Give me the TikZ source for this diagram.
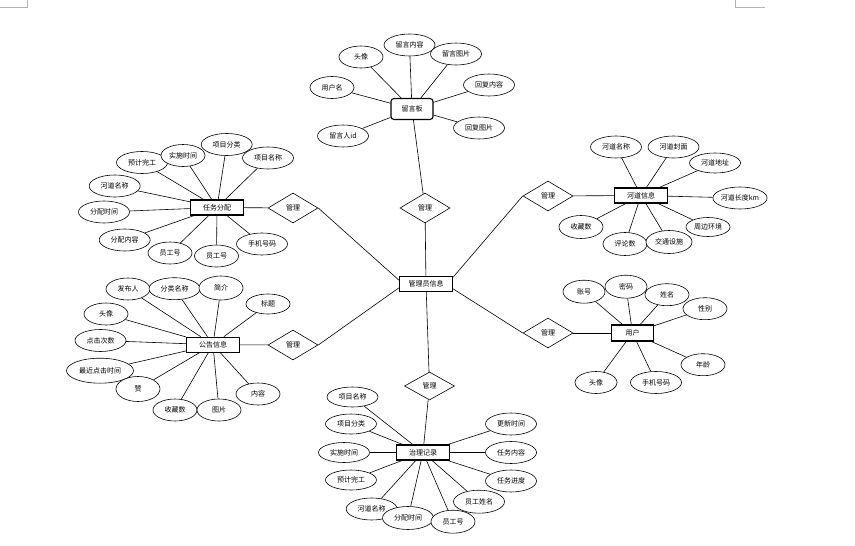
\documentclass[tikz,border=0pt]{standalone}
\usepackage{fontspec}
\setmainfont{Noto Sans CJK SC}
\usetikzlibrary{shapes.geometric,positioning,backgrounds}

\begin{document}
\begin{tikzpicture}[x=1pt,y=-1pt,font=\fontsize{7}{8}\selectfont]
       \tikzstyle{attr}=[ellipse,draw,fill=white,line width=0.6pt,inner sep=0pt,minimum width=44pt,minimum height=22pt]
       \tikzstyle{wattr}=[attr,minimum width=51pt]
       \tikzstyle{entity}=[rectangle,draw,fill=white,line width=1.1pt,minimum width=53pt,minimum height=15pt,inner sep=1pt]
       \tikzstyle{rel}=[diamond,draw,fill=white,line width=0.6pt,inner sep=0pt,minimum width=50pt,minimum height=30pt]

       \useasboundingbox (0,0) rectangle (855,546);
       \draw[gray!60,line width=0.6pt] (0,7) -- (27,7) -- (27,0);
       \draw[gray!60,line width=0.6pt] (735,0) -- (735,7) -- (765,7);

       % centre
       \node[entity] (admin) at (426,284) {管理员信息};

       % message board
       \node[rel]    (relB)  at (425,208) {管理};
       \node[entity,rounded corners=3pt,minimum width=42pt,minimum height=21pt] (board) at (412,109) {留言板};
       \node[attr]  (b1) at (361,57)    {头像};
       \node[wattr] (b2) at (409.5,45)  {留言内容};
       \node[wattr] (b3) at (456,54)    {留言图片};
       \node[attr]  (b4) at (332,87.5)  {用户名};
       \node[wattr] (b5) at (489,85)    {回复内容};
       \node[wattr] (b6) at (479,128)   {回复图片};
       \node[wattr] (b7) at (343,136)   {留言人id};

       % task assignment
       \node[rel]    (relT) at (293,208)   {管理};
       \node[entity] (task) at (217,207.5) {任务分配};
       \node[wattr] (t1)  at (142,162.5)   {预计完工};
       \node[attr]  (t2)  at (183,155.5)   {实施时间};
       \node[wattr] (t3)  at (226.7,144.5) {项目分类};
       \node[wattr] (t4)  at (268,158)     {项目名称};
       \node[wattr] (t5)  at (114.7,186)   {河道名称};
       \node[wattr] (t6)  at (104,212)     {分配时间};
       \node[wattr] (t7)  at (124.7,240)   {分配内容};
       \node[attr]  (t8)  at (170,253)     {员工号};
       \node[attr]  (t9)  at (216.5,256)   {员工号};
       \node[wattr] (t10) at (262,244)     {手机号码};

       % river
       \node[rel]    (relR)  at (548,196)   {管理};
       \node[entity] (river) at (641,195.5) {河道信息};
       \node[wattr] (r1) at (616,147)   {河道名称};
       \node[wattr] (r2) at (673.5,147) {河道封面};
       \node[wattr,minimum height=20pt] (r3) at (715,163) {河道地址};
       \node[wattr,minimum width=53pt]  (r4) at (740,198) {河道长度km};
       \node[attr,minimum height=19pt]  (r5) at (708,227) {周边环境};
       \node[attr,minimum height=23pt]  (r8) at (581,227) {收藏数};
       \node[attr,minimum height=23pt]  (r7) at (625,244) {评论数};
       \node[attr,minimum width=46pt,minimum height=23pt] (r6) at (669,242) {交通设施};

       % notice
       \node[rel]    (relN)   at (293,345)   {管理};
       \node[entity] (notice) at (213,344.7) {公告信息};
       \node[attr]  (n1)  at (128,289)     {发布人};
       \node[wattr] (n2)  at (174.5,288.7) {分类名称};
       \node[attr,minimum height=24pt] (n3) at (221,288) {简介};
       \node[attr,minimum height=20pt] (n4) at (268,304) {标题};
       \node[attr]  (n5)  at (106,314)     {头像};
       \node[wattr] (n6)  at (100.5,340.5) {点击次数};
       \node[attr,minimum width=67pt,minimum height=25pt] (n7) at (100,370.7) {最近点击时间};
       \node[attr,minimum height=25pt] (n8) at (138,389) {赞};
       \node[attr]  (n9)  at (175,410)     {收藏数};
       \node[attr]  (n10) at (219,410)     {图片};
       \node[attr]  (n11) at (258,394)     {内容};

       % user
       \node[rel]    (relU) at (548,333)   {管理};
       \node[entity,minimum width=42pt,minimum height=16pt] (user) at (632.5,333) {用户};
       \node[attr,minimum width=42pt,minimum height=23pt] (u1) at (584,291.7) {账号};
       \node[attr,minimum width=42pt,minimum height=23pt] (u2) at (626,286.7) {密码};
       \node[attr]  (u3) at (667,294.7) {姓名};
       \node[attr]  (u4) at (705,308.7) {性别};
       \node[attr]  (u5) at (703,364.7) {年龄};
       \node[wattr] (u6) at (656,382.5) {手机号码};
       \node[attr,minimum width=42pt] (u7) at (596,382.5) {头像};

       % governance record
       \node[rel,minimum height=28pt] (relG) at (429.5,386) {管理};
       \node[entity] (record) at (423,452.5) {治理记录};
       \node[wattr,minimum height=20pt] (g1) at (352.5,397) {项目名称};
       \node[wattr,minimum height=20pt] (g2) at (351,424)   {项目分类};
       \node[wattr,minimum height=20pt] (g3) at (344,452.5) {实施时间};
       \node[wattr,minimum height=20pt] (g4) at (351,480)   {预计完工};
       \node[wattr] (g5) at (371.7,509) {河道名称};
       \node[wattr,minimum height=23pt] (g6) at (408,518) {分配时间};
       \node[attr,minimum height=23pt]  (g7) at (453,521.7) {员工号};
       \node[wattr,minimum height=23pt] (g8) at (479,501.7) {员工姓名};
       \node[wattr] (g9)  at (511,481)   {任务进度};
       \node[wattr] (g10) at (511,452.5) {任务内容};
       \node[wattr] (g11) at (511,424)   {更新时间};

       \begin{scope}[on background layer]
       \path[line width=0.6pt]
       (admin) edge (relB)
       (relB)  edge (board)
       (board) edge (b1) edge (b2) edge (b3) edge (b4) edge (b5) edge (b6) edge (b7)
       (relT.east) edge (admin.172)
       (task) edge (relT)
              edge (t1) edge (t2) edge (t3) edge (t4) edge (t5)
              edge (t6) edge (t7) edge (t8) edge (t9) edge (t10)
       (relR.west) edge (admin.14)
       (river) edge (relR)
               edge (r1) edge (r2) edge (r3) edge (r4)
               edge (r5) edge (r6) edge (r7) edge (r8)
       (relN.east) edge (admin.188)
       (notice) edge (relN)
                edge (n1) edge (n2) edge (n3) edge (n4) edge (n5) edge (n6)
                edge (n7) edge (n8) edge (n9) edge (n10) edge (n11)
       (relU.west) edge (admin.-10)
       (user) edge (relU)
              edge (u1) edge (u2) edge (u3) edge (u4) edge (u5) edge (u6) edge (u7)
       (admin) edge (relG)
       (relG)  edge (record)
       (record) edge (g1) edge (g2) edge (g3) edge (g4) edge (g5) edge (g6)
                edge (g7) edge (g8) edge (g9) edge (g10) edge (g11);
       \end{scope}
\end{tikzpicture}
\end{document}
